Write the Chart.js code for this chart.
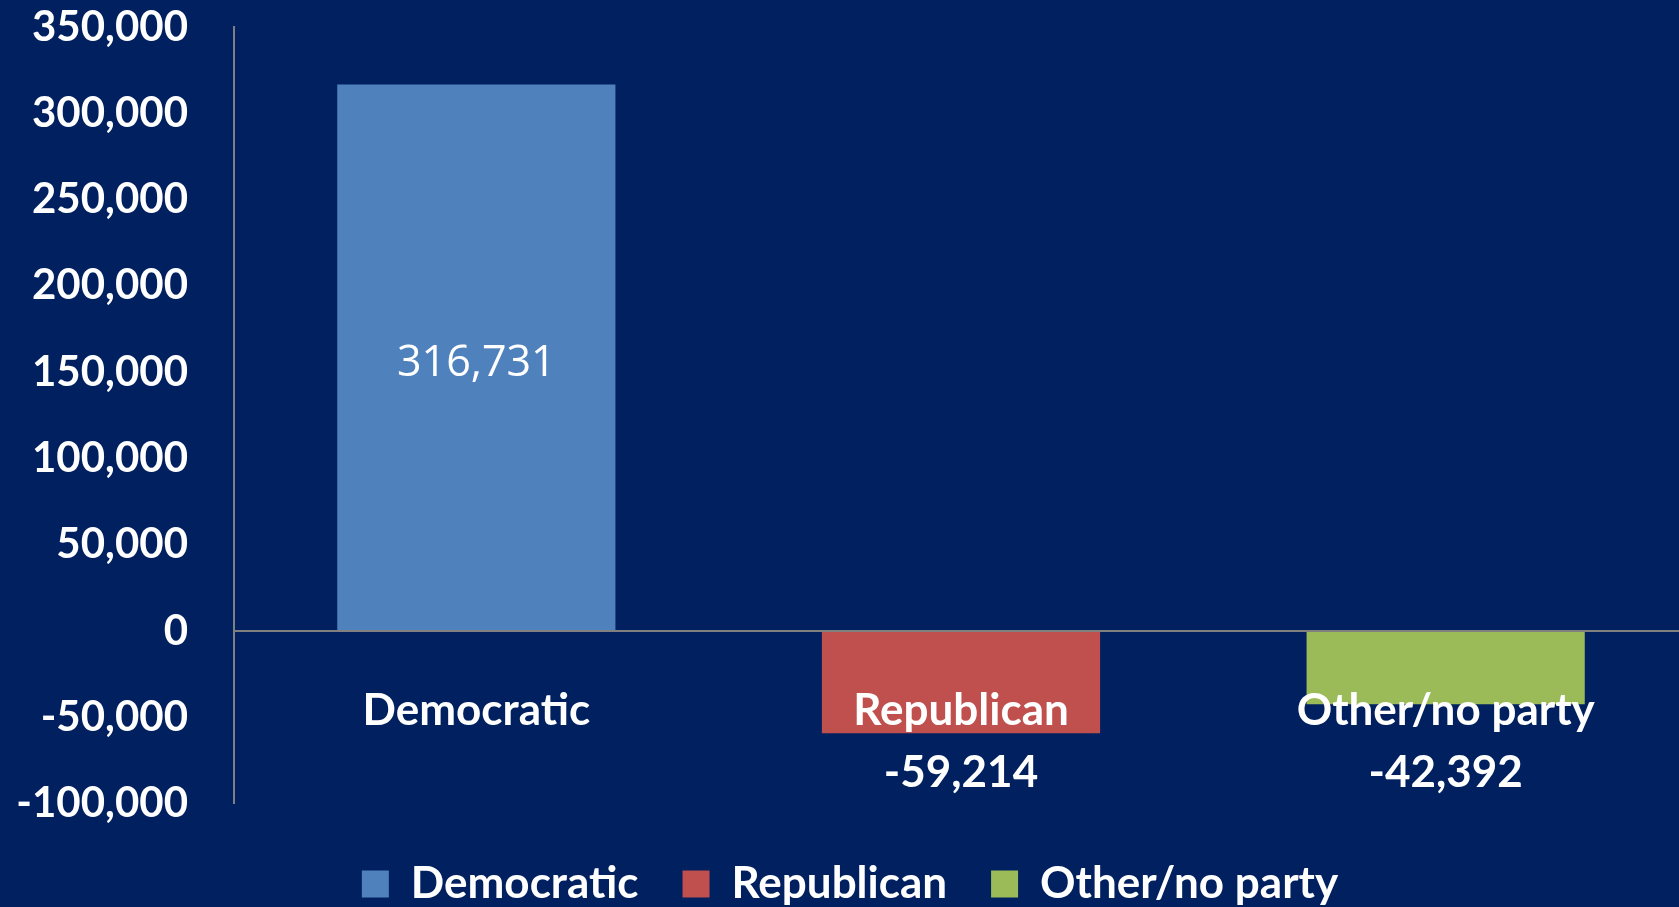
<!DOCTYPE html>
<html>
<head>
<meta charset="utf-8">
<script src="https://cdn.jsdelivr.net/npm/chart.js@4/dist/chart.umd.min.js"></script>
<style>
  html, body { margin: 0; padding: 0; background: #002060; overflow: hidden; }
  #wrap { width: 1688px; height: 916px; }
</style>
</head>
<body>
<div id="wrap"><canvas id="chart"></canvas></div>
<script>
// Data
const categories = ["Democratic", "Republican", "Other/no party"];
const netChange = [316731, -59214, -42392];
const barColors = ["#4F81BD", "#C0504D", "#9BBB59"];

// Value axis range and step
const yMin = -100000;
const yMax = 350000;
const yStep = 50000;

const fontFamily = 'Lato, "Open Sans", sans-serif';
const fmt = v => v.toLocaleString("en-US");

// Draw the value of positive bars in the middle of the bar
const insideLabels = {
  id: "insideLabels",
  afterDatasetsDraw(chart) {
    const ctx = chart.ctx;
    const meta = chart.getDatasetMeta(0);
    ctx.save();
    ctx.font = '43px "Open Sans", sans-serif';
    ctx.fillStyle = "#ffffff";
    ctx.textAlign = "center";
    ctx.textBaseline = "middle";
    meta.data.forEach((bar, i) => {
      const v = netChange[i];
      if (v >= 0) ctx.fillText(fmt(v), bar.x, (bar.y + bar.base) / 2 + 6);
    });
    ctx.restore();
  }
};

new Chart(document.getElementById("chart"), {
  type: "bar",
  data: {
    labels: categories,
    datasets: [{
      data: netChange,
      backgroundColor: barColors,
      barPercentage: 0.574,
      categoryPercentage: 1
    }]
  },
  plugins: [insideLabels],
  options: {
    responsive: true,
    maintainAspectRatio: false,
    animation: false,
    layout: { padding: { top: 27, right: 0, bottom: 0, left: 12 } },
    plugins: {
      tooltip: { enabled: false },
      legend: {
        position: "bottom",
        title: { display: true, text: "", font: { size: 12 }, padding: 0 },
        labels: {
          color: "#ffffff",
          boxWidth: 27,
          boxHeight: 27,
          padding: 44,
          font: { family: fontFamily, size: 44, weight: "bold" },
          generateLabels: () => categories.map((c, i) => ({
            text: c,
            fillStyle: barColors[i],
            strokeStyle: barColors[i],
            fontColor: "#ffffff",
            lineWidth: 0,
            hidden: false,
            index: i
          }))
        }
      }
    },
    scales: {
      x: {
        position: { y: 0 },
        grid: { display: false, drawTicks: false },
        border: { display: true, color: "#808080", width: 2, z: 1 },
        ticks: {
          z: 1,
          color: "#ffffff",
          padding: 49,
          font: { family: fontFamily, size: 44, weight: "bold", lineHeight: 1.4 },
          callback: function (value, index) {
            const label = this.getLabelForValue(value);
            return netChange[index] < 0 ? [label, fmt(netChange[index])] : label;
          }
        }
      },
      y: {
        min: yMin,
        max: yMax,
        afterFit: s => {
          s.width = 222;
          s.paddingTop = 0;
          s.paddingBottom = 0;
        },
        grid: { display: false, drawTicks: false },
        border: { display: true, color: "#808080", width: 2 },
        ticks: {
          stepSize: yStep,
          color: "#ffffff",
          padding: 46,
          font: { family: fontFamily, size: 42, weight: "bold", lineHeight: 1 },
          callback: v => fmt(v)
        }
      }
    }
  }
});
</script>
</body>
</html>
